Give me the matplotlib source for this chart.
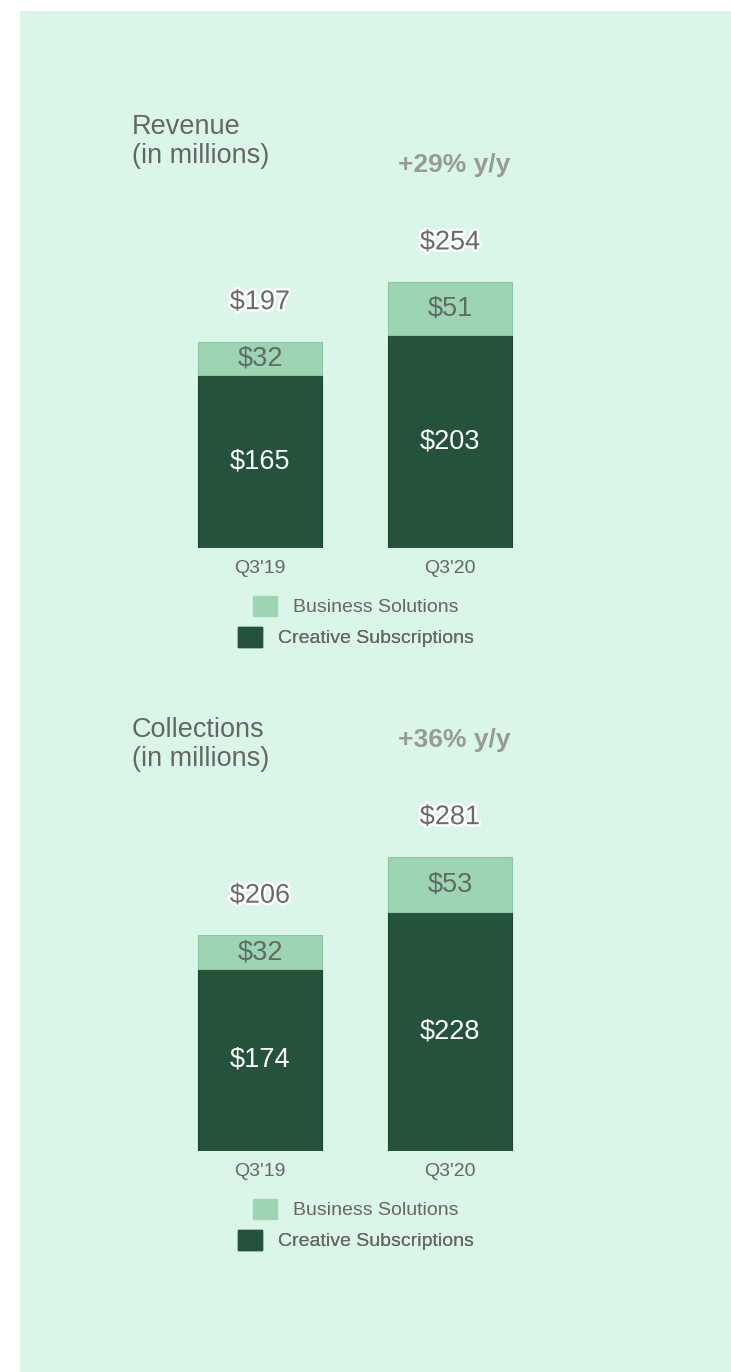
import matplotlib.pyplot as plt
import matplotlib.patheffects as pe
from matplotlib.patches import Patch, Rectangle

plt.rcParams["font.family"] = ["Liberation Sans", "DejaVu Sans"]

# Data
quarters = ["Q3'19", "Q3'20"]
revenue_creative = [165, 203]
revenue_business = [32, 51]
revenue_growth = "+29% y/y"
collections_creative = [174, 228]
collections_business = [32, 53]
collections_growth = "+36% y/y"
series_names = ["Business Solutions", "Creative Subscriptions"]

W, H = 731, 1372
DARK = "#24523a"
LIGHT = "#9dd4b4"
BG = "#daf6e9"
GREY = "#666666"
PX_PER_UNIT = 1.047


def px_x(px):
    return px / W


def px_y(px):
    return 1 - px / H


def draw_panel(fig, baseline_px, title, creative, business, growth):
    ax_left, ax_right = 165, 545
    ax_height = 450
    ax = fig.add_axes([px_x(ax_left), px_y(baseline_px),
                       (ax_right - ax_left) / W, ax_height / H])
    ax.set_facecolor("none")
    for s in ax.spines.values():
        s.set_visible(False)

    x = list(range(len(quarters)))
    width = 124 / 190
    totals = [c + b for c, b in zip(creative, business)]

    ax.bar(x, creative, width, color=DARK, edgecolor="#1c4430", linewidth=0.8)
    ax.bar(x, business, width, bottom=creative, color=LIGHT,
           edgecolor="#8cc6a5", linewidth=0.8)

    for xi, c, b, t in zip(x, creative, business, totals):
        ax.text(xi, c / 2, f"${c}", ha="center", va="center",
                color="white", fontsize=19.5)
        ax.text(xi, c + b / 2, f"${b}", ha="center", va="center",
                color="#5f6b64", fontsize=19.5)
        ax.annotate(f"${t}", (xi, t), xytext=(0, 28.5), textcoords="offset points",
                    ha="center", va="center", color="#6a6a6a", fontsize=19.5,
                    path_effects=[pe.withStroke(linewidth=3.5, foreground="white")])

    ax.annotate(growth, (x[-1], max(totals)), xytext=(3, 84),
                textcoords="offset points", ha="center", va="center",
                color="#999999", fontsize=19, fontweight="bold")

    ax.set_xlim(-0.5, 1.5)
    ax.set_ylim(0, ax_height / PX_PER_UNIT)
    ax.set_yticks([])
    ax.set_xticks(x, quarters)
    ax.tick_params(axis="x", length=0, pad=8.5, labelsize=14, labelcolor=GREY)

    fig.text(px_x(132), px_y(baseline_px - 434), title, ha="left", va="top",
             color=GREY, fontsize=19.5, linespacing=1.17)

    # legend rows, each centered on its own
    center_x = px_x(356)
    for name, color, dy in [(series_names[0], LIGHT, 58), (series_names[1], DARK, 89)]:
        leg = ax.legend(handles=[Patch(facecolor=color, edgecolor=color)],
                        labels=[name], loc="center",
                        bbox_to_anchor=(center_x, px_y(baseline_px + dy)),
                        bbox_transform=fig.transFigure, frameon=False,
                        fontsize=14, handlelength=1.23, handleheight=1.23,
                        handletextpad=0.82, borderpad=0, borderaxespad=0)
        for txt in leg.get_texts():
            txt.set_color(GREY)
        ax.add_artist(leg)


fig = plt.figure(figsize=(W / 100, H / 100), dpi=100)
fig.patch.set_facecolor("white")
fig.add_artist(Rectangle((px_x(20), 0), 1 - px_x(20), px_y(11),
                         transform=fig.transFigure, facecolor=BG,
                         edgecolor="none", zorder=-1))

draw_panel(fig, 548, "Revenue\n(in millions)", revenue_creative,
           revenue_business, revenue_growth)
draw_panel(fig, 1151, "Collections\n(in millions)", collections_creative,
           collections_business, collections_growth)

fig.savefig("out.png", dpi=100, facecolor=fig.get_facecolor())
